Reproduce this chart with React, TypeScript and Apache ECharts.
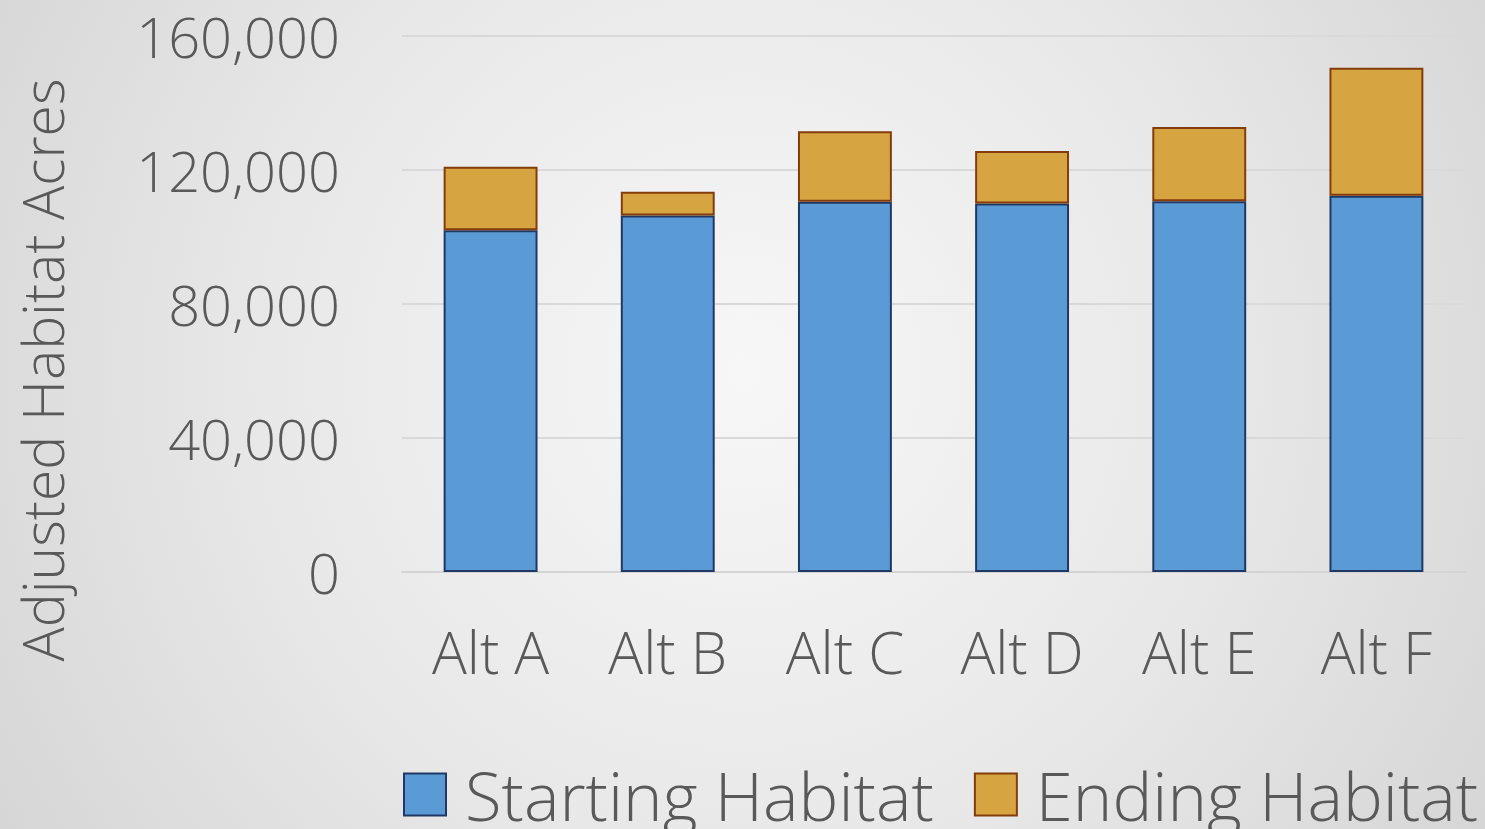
import React, { useEffect, useRef } from "react";
import * as echarts from "echarts";

const categories = ["Alt A", "Alt B", "Alt C", "Alt D", "Alt E", "Alt F"];
const startingHabitat = [102000, 106400, 110500, 110000, 110700, 112300];
const endingHabitat = [19000, 7100, 21100, 15700, 22100, 38200];
const yTicks = [0, 40000, 80000, 120000, 160000];
const yTitle = "Adjusted Habitat Acres";

const FONT = "'Open Sans', 'Noto Sans', sans-serif";
const TEXT = "#595959";

export default function App() {
  const ref = useRef<HTMLDivElement>(null);
  useEffect(() => {
    document.body.style.margin = "0";
    if (!ref.current) return;
    const chart = echarts.init(ref.current, undefined, { renderer: "svg" });
    chart.setOption({
      animation: false,
      backgroundColor: "transparent",
      grid: { left: 402, right: 20, top: 36, bottom: 257 },
      legend: {
        top: 756,
        left: 398,
        icon: "rect",
        itemWidth: 42,
        itemHeight: 42,
        itemGap: 40,
        textStyle: { fontFamily: FONT, fontSize: 67, color: TEXT, fontWeight: 300, padding: [0, 0, 0, 14] },
        data: ["Starting Habitat", "Ending Habitat"],
      },
      graphic: [
        {
          type: "text",
          x: 42,
          y: 370,
          rotation: Math.PI / 2,
          style: {
            text: yTitle,
            fontFamily: FONT,
            fontSize: 57,
            fontWeight: 300,
            fill: TEXT,
            textAlign: "center",
            textVerticalAlign: "middle",
          },
        },
      ],
      xAxis: {
        type: "category",
        data: categories,
        axisLine: { lineStyle: { color: "#d4d4d4", width: 2 } },
        axisTick: { show: false },
        axisLabel: { fontFamily: FONT, fontSize: 58, color: TEXT, margin: 50, fontWeight: 300 },
      },
      yAxis: {
        type: "value",
        min: 0,
        max: yTicks[yTicks.length - 1],
        interval: 40000,
        axisLine: { show: false },
        axisTick: { show: false },
        splitLine: { lineStyle: { color: "#d9d9d9", width: 2 } },
        axisLabel: {
          fontFamily: FONT,
          fontSize: 56,
          color: TEXT,
          margin: 62,
          fontWeight: 300,
          formatter: (v: number) => v.toLocaleString("en-US"),
        },
      },
      series: [
        {
          name: "Starting Habitat",
          type: "bar",
          stack: "total",
          barWidth: "53%",
          data: startingHabitat,
          itemStyle: { color: "#5b9bd5", borderColor: "#203864", borderWidth: 2 },
        },
        {
          name: "Ending Habitat",
          type: "bar",
          stack: "total",
          barWidth: "53%",
          data: endingHabitat,
          itemStyle: { color: "#d6a542", borderColor: "#843c0c", borderWidth: 2 },
        },
      ],
    });
    return () => chart.dispose();
  }, []);
  return (
    <div
      ref={ref}
      style={{
        width: 1485,
        height: 829,
        background: "radial-gradient(circle at 50% 45%, #f7f7f7 0%, #e8e8e8 55%, #d6d6d6 100%)",
      }}
    />
  );
}
